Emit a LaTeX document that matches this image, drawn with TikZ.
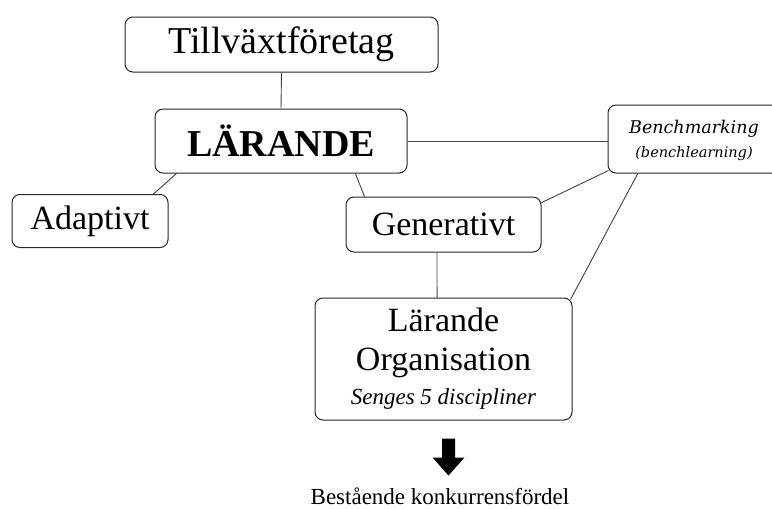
\documentclass[tikz,border=0pt]{standalone}
\usepackage{fontspec}
\setmainfont{Liberation Serif}
\newfontfamily\benchfont{DejaVu Serif}
\usetikzlibrary{calc}
\begin{document}
\begin{tikzpicture}[x=1pt,y=-1pt,
  box/.style={draw=black!85, line width=1pt, rounded corners=8pt, fill=white, inner sep=0pt, align=center},
  link/.style={draw=black!75, line width=0.9pt}]
\useasboundingbox (0,0) rectangle (772,509);

% boxes
\node[box, minimum width=313pt, minimum height=55pt, font=\fontsize{38}{40}\selectfont] (tv) at (281.5,44.5) {Tillväxtföretag};
\node[box, minimum width=252pt, minimum height=64pt, font=\fontsize{38}{40}\selectfont\bfseries] (lar) at (281,141) {LÄRANDE};
\node[box, minimum width=156pt, minimum height=53pt, font=\fontsize{34}{36}\selectfont] (ad) at (90,221) {Adaptivt};
\node[box, minimum width=195pt, minimum height=55pt, font=\fontsize{34}{36}\selectfont] (gen) at (443.5,224.5) {Generativt};
\node[box, minimum width=172pt, minimum height=68pt, text depth=0pt, font=\benchfont\itshape\fontsize{17.5}{24}\selectfont] (bm) at (694,139)
  {Benchmarking\\{\fontsize{14.5}{16}\selectfont (benchlearning)}};
\node[box, minimum width=257pt, minimum height=122pt, font=\fontsize{34}{39}\selectfont] (lo) at (443.5,359)
  {Lärande\\Organisation\\[-5pt]{\fontsize{23}{26}\selectfont\itshape Senges 5 discipliner}};

% connectors
\draw[link] (tv.south) -- (lar.north);
\draw[link] ($(lar.south west)!0.087!(lar.south east)$) -- ($(ad.north west)!0.904!(ad.north east)$);
\draw[link] ($(lar.south west)!0.794!(lar.south east)$) -- ($(gen.north west)!0.097!(gen.north east)$);
\draw[link] (lar.east) -- (bm.west |- lar.east);
\draw[link] ($(gen.north east)!0.11!(gen.south east)$) -- ($(bm.south west)+(1,-3)$);
\draw[link] ($(bm.south west)!0.175!(bm.south east)$) -- ($(lo.north east)+(-2,2)$);
\draw[link] ($(gen.south west)!0.467!(gen.south east)$) -- ($(lo.north west)!0.475!(lo.north east)$);

% outcome arrow and label
\coordinate (arr) at ($(lo.south)+(5,18)$);
\fill[black] ($(arr)+(-6.5,0)$) -- ($(arr)+(6.5,0)$) -- ($(arr)+(6.5,19)$) -- ($(arr)+(16,19)$)
  -- ($(arr)+(0,37)$) -- ($(arr)+(-16,19)$) -- ($(arr)+(-6.5,19)$) -- cycle;
\node[font=\fontsize{23}{25}\selectfont, inner sep=0pt] (out) at (440,496) {Bestående konkurrensfördel};
\end{tikzpicture}
\end{document}
